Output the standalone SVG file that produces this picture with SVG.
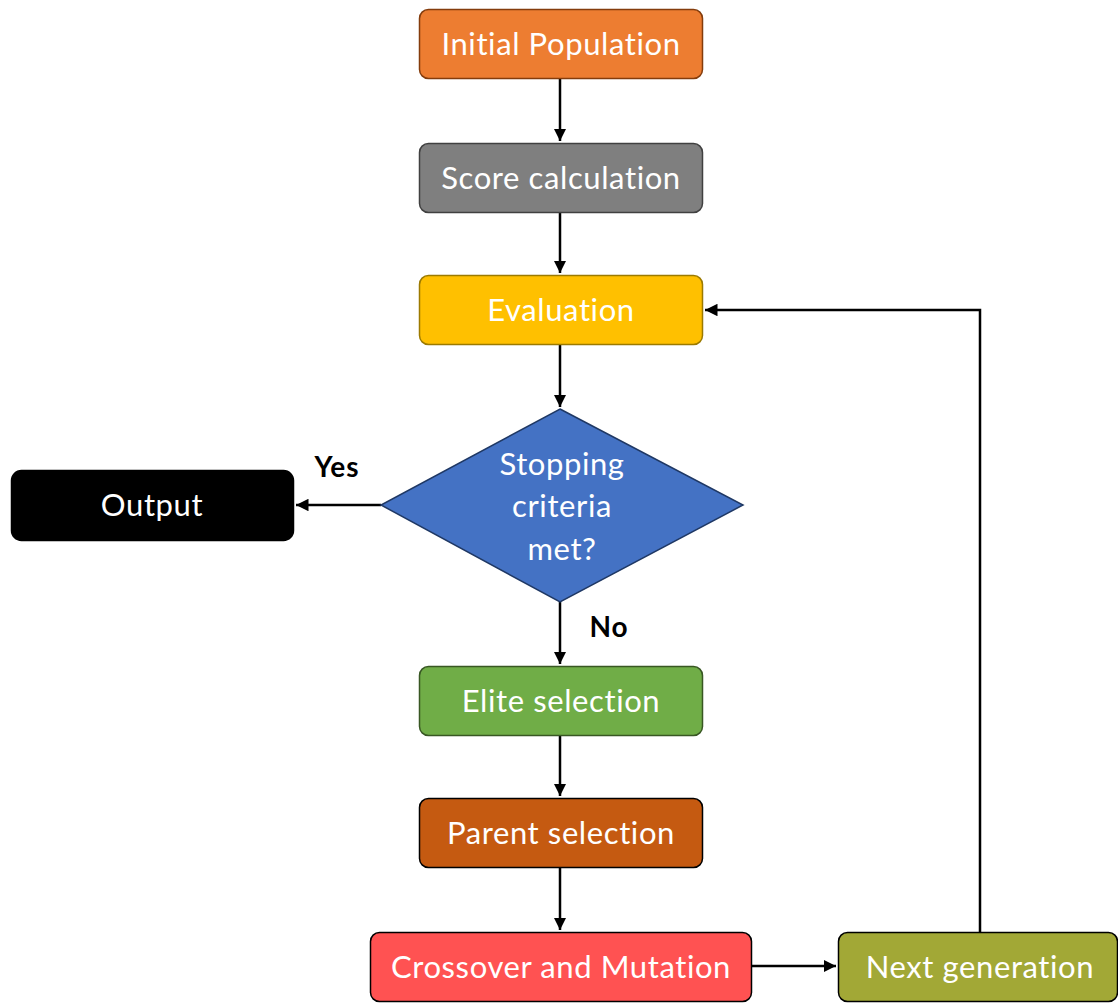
<svg xmlns="http://www.w3.org/2000/svg" width="1118" height="1003" viewBox="0 0 1118 1003">
  <style>
    .box { stroke-width: 1.5; }
    .lbl { font-family: Lato, "Liberation Sans", sans-serif; font-size: 31px; letter-spacing: 0.6px; fill: #ffffff; text-anchor: middle; }
    .tag { font-family: Lato, "Liberation Sans", sans-serif; font-size: 28px; letter-spacing: 1px; font-weight: bold; fill: #000000; text-anchor: middle; }
    .wire { fill: none; stroke: #000000; stroke-width: 2.5; }
  </style>
  <defs>
    <marker id="arrow" viewBox="0 0 10 10" refX="10" refY="5" markerWidth="5" markerHeight="5" orient="auto" markerUnits="strokeWidth">
      <path d="M0,0 L10,5 L0,10 z" fill="#000000"/>
    </marker>
  </defs>
  <rect width="1118" height="1003" fill="#ffffff"/>

  <g id="connectors">
    <line class="wire" x1="560" y1="79" x2="560" y2="141" marker-end="url(#arrow)"/>
    <line class="wire" x1="560" y1="213" x2="560" y2="273" marker-end="url(#arrow)"/>
    <line class="wire" x1="560" y1="345" x2="560" y2="407" marker-end="url(#arrow)"/>
    <line class="wire" x1="381" y1="505" x2="296" y2="505" marker-end="url(#arrow)"/>
    <line class="wire" x1="560" y1="602" x2="560" y2="664" marker-end="url(#arrow)"/>
    <line class="wire" x1="560" y1="736" x2="560" y2="796" marker-end="url(#arrow)"/>
    <line class="wire" x1="560" y1="868" x2="560" y2="930" marker-end="url(#arrow)"/>
    <line class="wire" x1="752" y1="966" x2="836" y2="966" marker-end="url(#arrow)"/>
    <polyline class="wire" points="980,932 980,310 705,310" marker-end="url(#arrow)"/>
    <text class="tag" x="337" y="477">Yes</text>
    <text class="tag" x="609" y="637">No</text>
  </g>

  <g id="initial-population">
    <rect class="box" x="419.5" y="9.5" width="283" height="69" rx="9" fill="#ED7D31" stroke="#843C0C"/>
    <text class="lbl" x="561" y="55">Initial Population</text>
  </g>
  <g id="score-calculation">
    <rect class="box" x="419.5" y="143.5" width="283" height="69" rx="9" fill="#7F7F7F" stroke="#404040"/>
    <text class="lbl" x="561" y="189">Score calculation</text>
  </g>
  <g id="evaluation">
    <rect class="box" x="419.5" y="275.5" width="283" height="69" rx="9" fill="#FFC000" stroke="#9C7A00"/>
    <text class="lbl" x="561" y="321">Evaluation</text>
  </g>
  <g id="stopping-criteria">
    <polygon class="box" points="560,409 743,505 560,602 381,505" fill="#4472C4" stroke="#1F3864"/>
    <text class="lbl" x="562" y="475">Stopping</text>
    <text class="lbl" x="562" y="517">criteria</text>
    <text class="lbl" x="562" y="560">met?</text>
  </g>
  <g id="output">
    <rect class="box" x="11.5" y="470.5" width="282" height="70" rx="10" fill="#000000" stroke="#000000"/>
    <text class="lbl" x="152" y="516">Output</text>
  </g>
  <g id="elite-selection">
    <rect class="box" x="419.5" y="666.5" width="283" height="69" rx="9" fill="#70AD47" stroke="#385723"/>
    <text class="lbl" x="561" y="712">Elite selection</text>
  </g>
  <g id="parent-selection">
    <rect class="box" x="419.5" y="798.5" width="283" height="69" rx="9" fill="#C55A11" stroke="#000000"/>
    <text class="lbl" x="561" y="844">Parent selection</text>
  </g>
  <g id="crossover-mutation">
    <rect class="box" x="370.5" y="932.5" width="381" height="69" rx="9" fill="#FF5252" stroke="#000000"/>
    <text class="lbl" x="561" y="978">Crossover and Mutation</text>
  </g>
  <g id="next-generation">
    <rect class="box" x="838.5" y="932.5" width="279" height="69" rx="9" fill="#A2A836" stroke="#000000"/>
    <text class="lbl" x="980" y="978">Next generation</text>
  </g>
</svg>
